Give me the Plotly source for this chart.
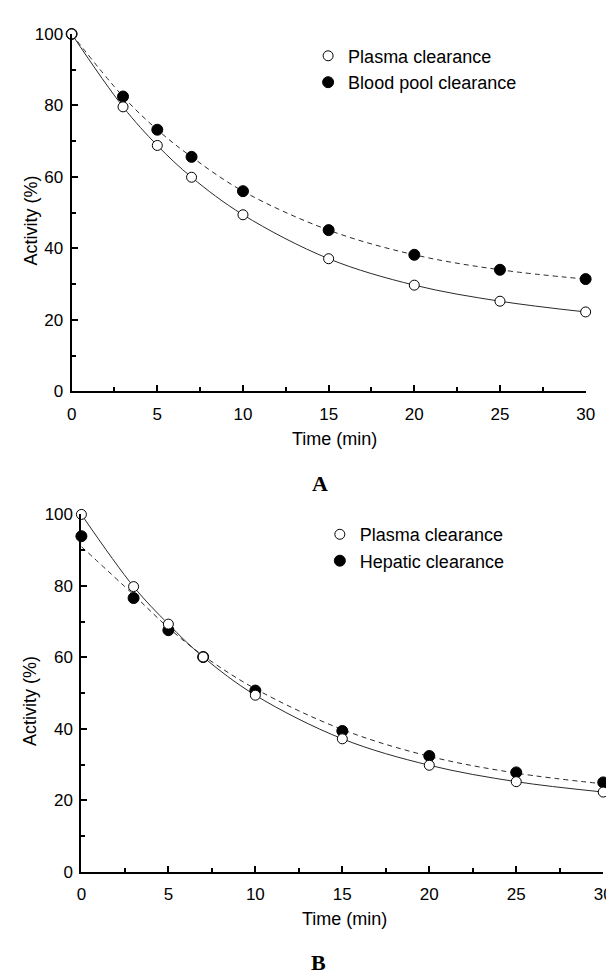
import plotly.graph_objects as go

# ---------------- data ----------------
time_min = [0, 3, 5, 7, 10, 15, 20, 25, 30]

# Panel A
a_plasma = [100, 79.6, 68.8, 59.9, 49.4, 37.1, 29.7, 25.2, 22.2]
a_blood_pool = [100, 82.5, 73.2, 65.6, 56.0, 45.1, 38.2, 34.0, 31.4]

# Panel B
b_plasma = [100, 79.8, 69.3, 60.1, 49.4, 37.2, 29.8, 25.2, 22.3]
b_hepatic = [93.9, 76.6, 67.6, 60.1, 50.7, 39.4, 32.4, 27.8, 25.0]
b_hepatic_fit = [91.0, 77.5, 68.3, 60.5, 51.2, 39.8, 32.3, 27.6, 24.6]

x_ticks = [0, 5, 10, 15, 20, 25, 30]
y_ticks = [0, 20, 40, 60, 80, 100]

series_names_a = ["Plasma clearance", "Blood pool clearance"]
series_names_b = ["Plasma clearance", "Hepatic clearance"]

# ---------------- styling ----------------
W, H = 614, 976
FONT = "Liberation Sans, Arial, sans-serif"
LINE_COLOR = "#2a2a2a"


def px_x(p):
    return p / W


def px_y(p):
    return 1 - p / H


fig = go.Figure()


def add_panel(xa, ya, legend, plasma, other, other_fit, names):
    # fitted curves
    fig.add_trace(go.Scatter(
        x=time_min, y=plasma, mode="lines", xaxis=xa, yaxis=ya,
        line=dict(color=LINE_COLOR, width=1, shape="spline", smoothing=1.0),
        showlegend=False, hoverinfo="skip"))
    fig.add_trace(go.Scatter(
        x=time_min, y=other_fit, mode="lines", xaxis=xa, yaxis=ya,
        line=dict(color=LINE_COLOR, width=1, dash="5px,4px", shape="spline", smoothing=1.0),
        showlegend=False, hoverinfo="skip"))
    # data points
    fig.add_trace(go.Scatter(
        x=time_min, y=other, mode="markers", xaxis=xa, yaxis=ya,
        marker=dict(symbol="circle", size=11, color="black",
                    line=dict(color="black", width=1)),
        name=names[1], legend=legend, legendrank=2, cliponaxis=False))
    fig.add_trace(go.Scatter(
        x=time_min, y=plasma, mode="markers", xaxis=xa, yaxis=ya,
        marker=dict(symbol="circle", size=10, color="white",
                    line=dict(color="black", width=1)),
        name=names[0], legend=legend, legendrank=1, cliponaxis=False))


add_panel("x", "y", "legend", a_plasma, a_blood_pool, a_blood_pool, series_names_a)
add_panel("x2", "y2", "legend2", b_plasma, b_hepatic, b_hepatic_fit, series_names_b)

axis_common = dict(
    showline=True, linecolor="black", linewidth=2, mirror=False,
    showgrid=False, zeroline=False,
    ticks="inside", ticklen=6, tickwidth=1.5, tickcolor="black",
    tickfont=dict(family=FONT, size=17, color="black"),
    fixedrange=True,
)

xdef = dict(axis_common, range=[0, 30], tickvals=x_ticks, ticktext=[str(v) for v in x_ticks],
            minor=dict(ticks="inside", dtick=2.5, tick0=0, ticklen=4, tickwidth=1.5, tickcolor="black"),
            ticklabelstandoff=6)
ydef = dict(axis_common, range=[0, 100], tickvals=y_ticks, ticktext=[str(v) for v in y_ticks],
            minor=dict(ticks="inside", dtick=10, tick0=0, ticklen=4, tickwidth=1.5, tickcolor="black"),
            ticklabelstandoff=3)

# panel pixel boxes (left, right, top, bottom)
A_box = (60, 586, 17.3, 381.7)
B_box = (70, 604, 507.3, 871.7)

legend_font = dict(family=FONT, size=18, color="black")

fig.update_layout(
    width=W, height=H, autosize=False,
    margin=dict(l=0, r=0, t=0, b=0),
    paper_bgcolor="white", plot_bgcolor="white",
    font=dict(family=FONT, color="black"),
    xaxis=dict(xdef, domain=[px_x(A_box[0]), px_x(A_box[1])], anchor="y"),
    yaxis=dict(ydef, domain=[px_y(A_box[3]), px_y(A_box[2])], anchor="x"),
    xaxis2=dict(xdef, domain=[px_x(B_box[0]), px_x(B_box[1])], anchor="y2"),
    yaxis2=dict(ydef, domain=[px_y(B_box[3]), px_y(B_box[2])], anchor="x2"),
    legend=dict(x=px_x(302), y=px_y(21), xanchor="left", yanchor="top",
                bgcolor="rgba(0,0,0,0)", font=legend_font,
                traceorder="normal", tracegroupgap=0),
    legend2=dict(x=px_x(314), y=px_y(509), xanchor="left", yanchor="top",
                 bgcolor="rgba(0,0,0,0)", font=legend_font,
                 traceorder="normal", tracegroupgap=0),
    showlegend=True,
)

annotations = [
    # axis titles
    dict(text="Time (min)", x=px_x(329), y=px_y(430)),
    dict(text="Activity (%)", x=px_x(18), y=px_y(208), textangle=-90),
    dict(text="Time (min)", x=px_x(339), y=px_y(920)),
    dict(text="Activity (%)", x=px_x(18), y=px_y(698), textangle=-90),
]
for a in annotations:
    a.update(xref="paper", yref="paper", showarrow=False, xanchor="center", yanchor="middle",
             font=dict(family=FONT, size=18, color="black"))
panel_labels = [
    dict(text="<b>A</b>", x=px_x(314), y=px_y(476)),
    dict(text="<b>B</b>", x=px_x(313), y=px_y(964)),
]
for a in panel_labels:
    a.update(xref="paper", yref="paper", showarrow=False, xanchor="center", yanchor="middle",
             font=dict(family="Liberation Serif, Times New Roman, serif", size=22, color="black"))
fig.update_layout(annotations=annotations + panel_labels)

fig.write_html("out.html")
